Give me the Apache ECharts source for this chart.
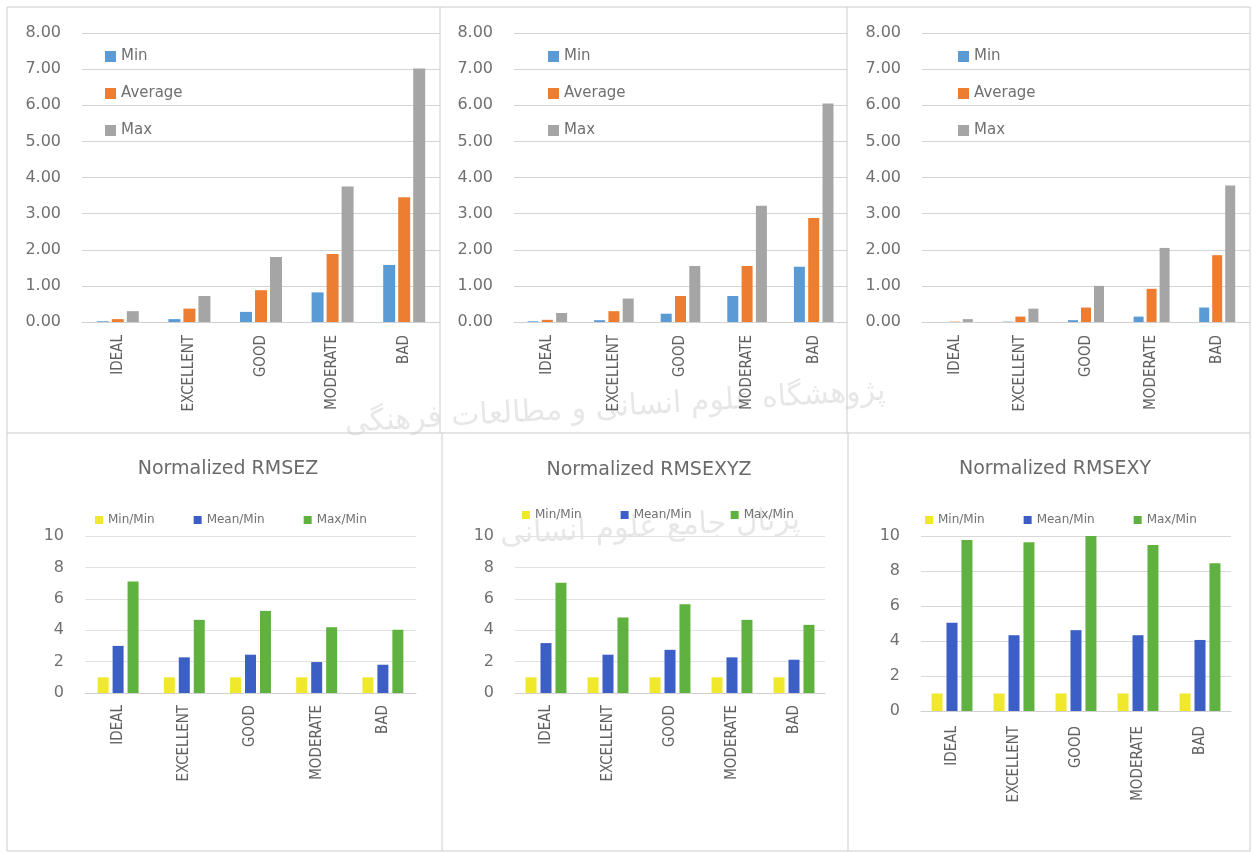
<!DOCTYPE html>
<html>
<head>
<meta charset="utf-8">
<title>RMSE charts</title>
<script src="https://cdn.jsdelivr.net/npm/echarts@6/dist/echarts.min.js"></script>
<style>
  html, body { margin: 0; padding: 0; background: #fff; }
  #chart { width: 1252px; height: 854px; }
</style>
</head>
<body>
<div id="chart"></div>
<script>
// categories shared by all six panels
const categories = ['IDEAL', 'EXCELLENT', 'GOOD', 'MODERATE', 'BAD'];

// top row: RMSE values (Z, XYZ, XY)
const rmseZMin = [0.02, 0.08, 0.28, 0.82, 1.58];
const rmseZAvg = [0.08, 0.37, 0.88, 1.88, 3.45];
const rmseZMax = [0.30, 0.72, 1.80, 3.75, 7.02];

const rmseXYZMin = [0.02, 0.05, 0.23, 0.72, 1.53];
const rmseXYZAvg = [0.06, 0.30, 0.72, 1.55, 2.88];
const rmseXYZMax = [0.25, 0.65, 1.55, 3.22, 6.05];

const rmseXYMin = [0.00, 0.01, 0.05, 0.15, 0.40];
const rmseXYAvg = [0.01, 0.15, 0.40, 0.92, 1.85];
const rmseXYMax = [0.08, 0.37, 1.00, 2.05, 3.78];

// bottom row: normalized by min
const normZMinMin = [1, 1, 1, 1, 1];
const normZMeanMin = [3.00, 2.27, 2.44, 1.97, 1.80];
const normZMaxMin = [7.10, 4.66, 5.23, 4.19, 4.03];

const normXYZMinMin = [1, 1, 1, 1, 1];
const normXYZMeanMin = [3.18, 2.44, 2.75, 2.27, 2.12];
const normXYZMaxMin = [7.03, 4.81, 5.66, 4.66, 4.34];

const normXYMinMin = [1, 1, 1, 1, 1];
const normXYMeanMin = [5.05, 4.33, 4.62, 4.33, 4.06];
const normXYMaxMin = [9.77, 9.64, 10.0, 9.49, 8.44];

// series names / titles
const topNames = ['Min', 'Average', 'Max'];
const bottomNames = ['Min/Min', 'Mean/Min', 'Max/Min'];
const bottomTitles = ['Normalized RMSEZ', 'Normalized RMSEXYZ', 'Normalized RMSEXY'];

const topColors = ['#5b9bd5', '#ed7d31', '#a5a5a5'];
const bottomColors = ['#f0e82a', '#3b5fc4', '#5fb23f'];
const textColor = '#707070';
const narrowFont = "'DejaVu Sans Condensed', 'Liberation Sans', sans-serif";

const panels = [
    // top row
    { grid: { left: 82, top: 33, width: 358, height: 289 }, max: 8, interval: 1, names: topNames, colors: topColors,
      data: [rmseZMin, rmseZAvg, rmseZMax], barWidth: 12, barGap: '25%', decimals: 2, labelSize: 15, labelMargin: 13,
      legend: { left: 100, top: 44 }, split: '#d4d4d4' },
    { grid: { left: 514, top: 33, width: 333, height: 289 }, max: 8, interval: 1, names: topNames, colors: topColors,
      data: [rmseXYZMin, rmseXYZAvg, rmseXYZMax], barWidth: 11, barGap: '30%', decimals: 2, labelSize: 15, labelMargin: 13,
      legend: { left: 543, top: 44 }, split: '#d4d4d4' },
    { grid: { left: 922, top: 33, width: 328, height: 289 }, max: 8, interval: 1, names: topNames, colors: topColors,
      data: [rmseXYMin, rmseXYAvg, rmseXYMax], barWidth: 10, barGap: '30%', decimals: 2, labelSize: 15, labelMargin: 13,
      legend: { left: 953, top: 44 }, split: '#d4d4d4' },
    // bottom row
    { grid: { left: 85, top: 536, width: 331, height: 157 }, max: 10, interval: 2, names: bottomNames, colors: bottomColors,
      data: [normZMinMin, normZMeanMin, normZMaxMin], barWidth: 11, barGap: '36%', decimals: 0, labelSize: 15, labelMargin: 12,
      legend: { left: 90, top: 509 }, title: { x: 223, y: 455, text: bottomTitles[0] }, split: '#e2e2e2' },
    { grid: { left: 515, top: 536, width: 310, height: 157 }, max: 10, interval: 2, names: bottomNames, colors: bottomColors,
      data: [normXYZMinMin, normXYZMeanMin, normXYZMaxMin], barWidth: 11, barGap: '36%', decimals: 0, labelSize: 15, labelMargin: 12,
      legend: { left: 517, top: 504 }, title: { x: 644, y: 456, text: bottomTitles[1] }, split: '#e2e2e2' },
    { grid: { left: 921, top: 536, width: 310, height: 175 }, max: 10, interval: 2, names: bottomNames, colors: bottomColors,
      data: [normXYMinMin, normXYMeanMin, normXYMaxMin], barWidth: 11, barGap: '36%', decimals: 0, labelSize: 15, labelMargin: 15,
      legend: { left: 920, top: 509 }, title: { x: 1050, y: 455, text: bottomTitles[2] }, split: '#d8d8d8' }
];

const chart = echarts.init(document.getElementById('chart'));

const grids = [], xAxes = [], yAxes = [], series = [], legends = [], titles = [];

panels.forEach((p, i) => {
    grids.push(Object.assign({ containLabel: false }, p.grid));

    xAxes.push({
        type: 'category',
        gridIndex: i,
        data: categories,
        axisTick: { show: false },
        axisLine: { lineStyle: { color: '#d0d0d0', width: 1 } },
        axisLabel: {
            rotate: 90,
            interval: 0,
            margin: p.labelMargin,
            color: '#606060',
            fontFamily: narrowFont,
            fontSize: p.labelSize
        }
    });

    yAxes.push({
        type: 'value',
        gridIndex: i,
        min: 0,
        max: p.max,
        interval: p.interval,
        axisLine: { show: false },
        axisTick: { show: false },
        splitLine: { lineStyle: { color: p.split, width: 1 } },
        axisLabel: {
            margin: 21,
            color: textColor,
            fontFamily: 'DejaVu Sans',
            fontSize: p.decimals ? 16 : 16,
            formatter: v => v.toFixed(p.decimals)
        }
    });

    p.names.forEach((name, k) => {
        series.push({
            name: name,
            type: 'bar',
            xAxisIndex: i,
            yAxisIndex: i,
            data: p.data[k],
            barWidth: p.barWidth,
            barGap: p.barGap,
            itemStyle: { color: p.colors[k] },
            emphasis: { disabled: true }
        });
    });

    const isTop = p.max === 8;
    legends.push({
        data: p.names,
        left: p.legend.left,
        top: p.legend.top,
        orient: isTop ? 'vertical' : 'horizontal',
        icon: 'rect',
        itemWidth: isTop ? 11 : 8,
        itemHeight: isTop ? 11 : 8,
        itemGap: isTop ? 22 : 39,
        selectedMode: false,
        textStyle: {
            color: textColor,
            fontFamily: 'DejaVu Sans',
            fontSize: isTop ? 15 : 12
        }
    });

    if (p.title) {
        titles.push({
            text: p.title.text,
            left: p.title.x,
            top: p.title.y,
            textAlign: 'center',
            textStyle: {
                color: '#6a6a6a',
                fontFamily: 'DejaVu Sans',
                fontWeight: 'normal',
                fontSize: 19
            }
        });
    }
});

// panel frame lines (decoration only)
const frameColor = '#cccccc';
const frame = [
    [7, 7, 1250, 7], [7, 7, 7, 851], [7, 433, 1250, 433],
    [440, 7, 440, 433], [847, 7, 847, 433],
    [442, 433, 442, 851], [848, 433, 848, 851],
    [7, 851, 1250, 851], [1250, 7, 1250, 851]
].map(l => ({
    type: 'line',
    silent: true,
    shape: { x1: l[0], y1: l[1], x2: l[2], y2: l[3] },
    style: { stroke: frameColor, lineWidth: 1 }
}));

// faint watermark text
const watermark = [
    { type: 'text', x: 615, y: 408, rotation: 0.06, silent: true, z: -1,
      style: { text: 'پژوهشگاه علوم انسانی و مطالعات فرهنگی', fontFamily: 'DejaVu Sans', fontSize: 30,
               fill: 'rgba(120,120,120,0.18)', align: 'center', verticalAlign: 'middle' } },
    { type: 'text', x: 650, y: 528, rotation: 0.05, silent: true, z: -1,
      style: { text: 'پرتال جامع علوم انسانی', fontFamily: 'DejaVu Sans', fontSize: 30,
               fill: 'rgba(120,120,120,0.18)', align: 'center', verticalAlign: 'middle' } }
];

const option = {
    animation: false,
    backgroundColor: '#ffffff',
    title: titles,
    legend: legends,
    grid: grids,
    xAxis: xAxes,
    yAxis: yAxes,
    series: series,
    graphic: frame.concat(watermark)
};

chart.setOption(option);
</script>
</body>
</html>
